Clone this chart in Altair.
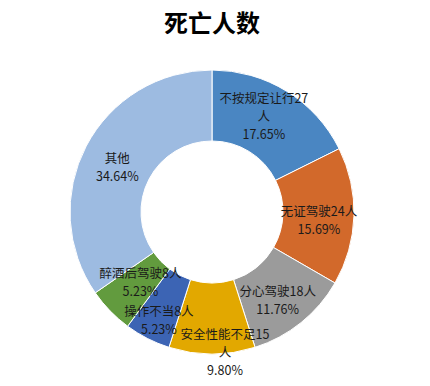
import altair as alt
import pandas as pd

categories = ["不按规定让行", "无证驾驶", "分心驾驶", "安全性能不足", "操作不当", "醉酒后驾驶", "其他"]
counts = [27, 24, 18, 15, 8, 8, 53]
labels = [
    "不按规定让行27\n人\n17.65%",
    "无证驾驶24人\n15.69%",
    "分心驾驶18人\n11.76%",
    "安全性能不足15\n人\n9.80%",
    "操作不当8人\n5.23%",
    "醉酒后驾驶8人\n5.23%",
    "其他\n34.64%",
]
colors = ["#4A86C2", "#D2692B", "#9B9B9B", "#E2A800", "#3C64B4", "#629B3E", "#9DBBE1"]

# label placement style (offsets of the first text line from the slice's mid point)
label_offsets = {
    "不按规定让行": (-5, -21),
    "无证驾驶": (-1, -3),
    "分心驾驶": (-2, -4),
    "安全性能不足": (13, 15),
    "操作不当": (-4, 4),
    "醉酒后驾驶": (6, -13),
    "其他": (1, -3),
}

df = pd.DataFrame({
    "category": categories,
    "count": counts,
    "label": labels,
    "idx": list(range(len(categories))),
})

FONT = "Noto Sans CJK SC"

base = alt.Chart(df).encode(
    theta=alt.Theta("count:Q", stack=True),
    order=alt.Order("idx:Q"),
)

arcs = base.mark_arc(innerRadius=71, outerRadius=142, stroke="white", strokeWidth=1).encode(
    color=alt.Color("category:N", scale=alt.Scale(domain=categories, range=colors), legend=None)
)

layers = [arcs]
for cat in categories:
    dx, dy = label_offsets[cat]
    layers.append(
        base.mark_text(radius=108, dx=dx, dy=dy, fontSize=12.5, lineBreak="\n", lineHeight=18,
                       font=FONT, color="#1a1a1a").encode(
            text="label:N",
            opacity=alt.condition(alt.datum.category == cat, alt.value(1), alt.value(0)),
        )
    )

chart = alt.layer(*layers).properties(
    width=408,
    height=330,
    padding={"left": 0, "top": 5, "right": 0, "bottom": 0},
    title=alt.TitleParams("死亡人数", fontSize=24, font=FONT, fontWeight="bold",
                          color="#000000", anchor="middle", offset=10),
).configure_view(stroke=None).configure(background="white")

chart.save("out.html", embed_options={"renderer": "svg", "actions": False})
